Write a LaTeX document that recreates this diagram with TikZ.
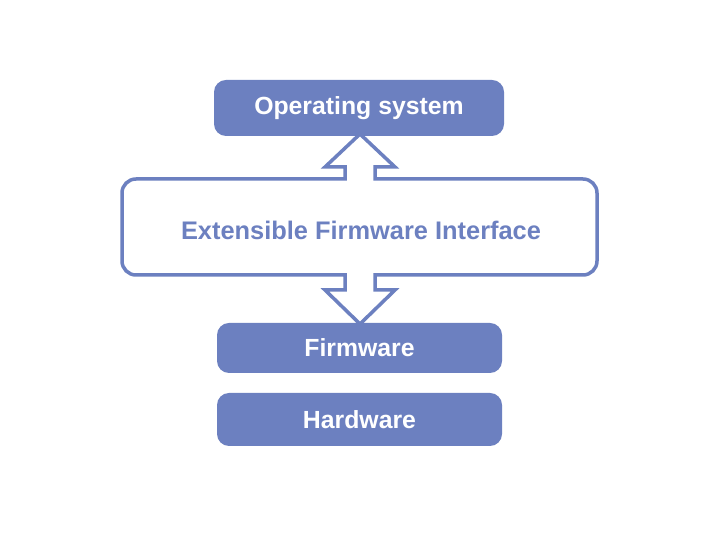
\documentclass[tikz,border=0pt]{standalone}
\usepackage{fontspec}
\setmainfont{Liberation Sans}
\definecolor{efiblue}{RGB}{108,128,192}
\begin{document}
\begin{tikzpicture}[x=1pt,y=1pt,
  bluebox/.style={fill=efiblue, rounded corners=12pt, inner sep=0pt, text=white, font=\fontsize{24.8}{28}\selectfont\bfseries},
  efiline/.style={draw=efiblue, line width=3.5pt, fill=white, line join=miter}]
\useasboundingbox[fill=white] (0,0) rectangle (720,540);
\draw[efiline] (375,361) -- (583,361) arc[start angle=90,end angle=0,radius=14]
  -- (597,279) arc[start angle=0,end angle=-90,radius=14]
  -- (375,265) -- (375,250) -- (395,250) -- (360,216) -- (325,250) -- (345,250) -- (345,265)
  -- (136,265) arc[start angle=270,end angle=180,radius=14]
  -- (122,347) arc[start angle=180,end angle=90,radius=14]
  -- (345,361) -- (345,373) -- (325,373) -- (360,406) -- (395,373) -- (375,373) -- cycle;
\node[bluebox, minimum width=290pt, minimum height=56pt] (os) at (359,432) {Operating system};
\node[text=efiblue, font=\fontsize{25.4}{28}\selectfont\bfseries] (efi) at (361,310) {Extensible Firmware Interface};
\node[bluebox, minimum width=285pt, minimum height=50pt] (fw) at (359.5,192) {Firmware};
\node[bluebox, minimum width=285pt, minimum height=53pt] (hw) at (359.5,120.5) {Hardware};
\end{tikzpicture}
\end{document}
